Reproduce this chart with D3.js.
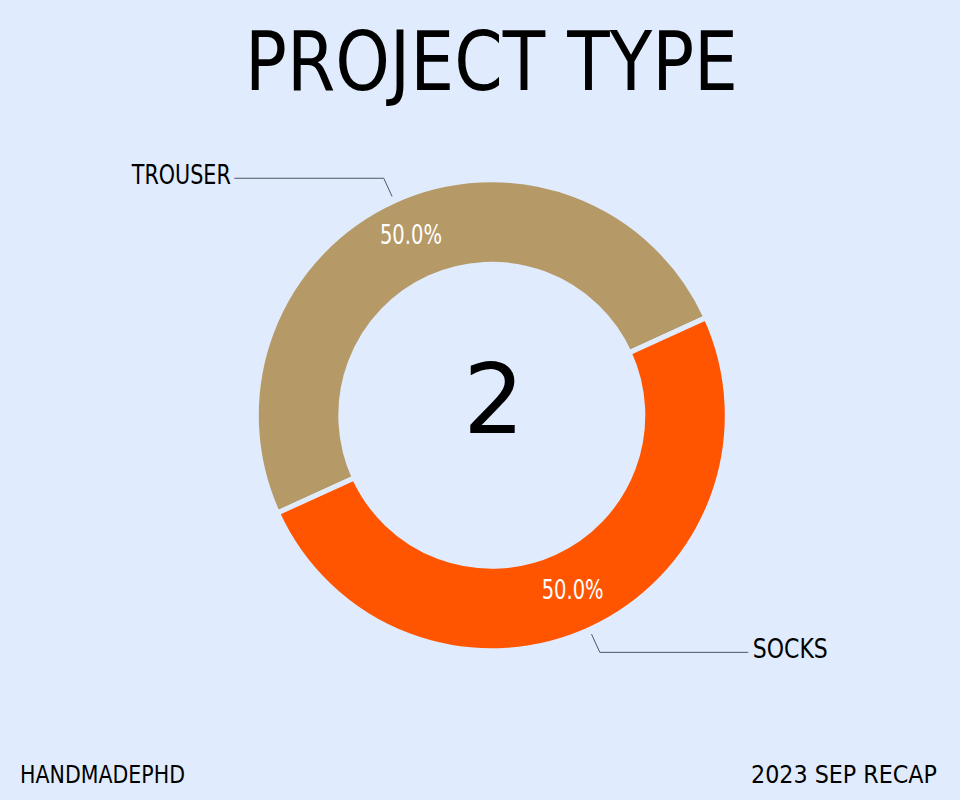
<!DOCTYPE html>
<html>
<head>
<meta charset="utf-8">
<script src="https://cdn.jsdelivr.net/npm/d3@7"></script>
<style>
  html, body { margin: 0; padding: 0; background: #e0ecfd; }
  svg { display: block; }
  text { font-family: "Humor Sans", "xkcd", "DejaVu Sans", sans-serif; }
</style>
</head>
<body>
<div id="chart"></div>
<script>
// project types and their counts
var categories = ["TROUSER", "SOCKS"];
var counts = [1, 1];
var colors = ["#b59967", "#ff5500"];
var title = "PROJECT TYPE";
var footerLeft = "HANDMADEPHD";
var footerRight = "2023 SEP RECAP";

var width = 960, height = 800;
var cx = 491.8, cy = 415.3;
var gapW = 5;
var outerR = 233 + gapW / 2, innerR = 153.5 - gapW / 2;

var svg = d3.select("#chart").append("svg")
    .attr("width", width).attr("height", height);

svg.append("rect").attr("width", width).attr("height", height).attr("fill", "#e0ecfd");

svg.append("text")
    .attr("x", 491.5).attr("y", 90)
    .attr("text-anchor", "middle")
    .attr("font-size", 82)
    .attr("textLength", 493)
    .attr("lengthAdjust", "spacingAndGlyphs")
    .attr("fill", "#000")
    .text(title);

var data = categories.map(function(c, i) { return {name: c, value: counts[i], color: colors[i]}; });

var start = -114.5 * Math.PI / 180;
var pie = d3.pie().value(function(d) { return d.value; }).sort(null)
    .startAngle(start).endAngle(start + 2 * Math.PI);
var arcs = pie(data);

var arc = d3.arc().innerRadius(innerR).outerRadius(outerR);
var g = svg.append("g").attr("transform", "translate(" + cx + "," + cy + ")");

g.selectAll("path.slice").data(arcs).enter().append("path")
    .attr("class", "slice")
    .attr("d", arc)
    .attr("fill", function(d) { return d.data.color; })
    .attr("stroke", "#e0ecfd")
    .attr("stroke-width", gapW);

// percentage labels
var total = d3.sum(counts);
var pctArc = d3.arc().innerRadius(195).outerRadius(195);
g.selectAll("text.pct").data(arcs).enter().append("text")
    .attr("class", "pct")
    .attr("transform", function(d) { return "translate(" + pctArc.centroid(d) + ")"; })
    .attr("text-anchor", "middle")
    .attr("y", 6.5)
    .attr("font-size", 27)
    .attr("textLength", 62)
    .attr("lengthAdjust", "spacingAndGlyphs")
    .attr("fill", "#fff")
    .style("font-family", "'DejaVu Sans', sans-serif")
    .text(function(d) { return d3.format(".1f")(d.data.value / total * 100) + "%"; });

// leader lines and category labels
var edgeArc = d3.arc().innerRadius(240.5).outerRadius(240.5);
var elbowArc = d3.arc().innerRadius(260.5).outerRadius(260.5);
var labelLen = {TROUSER: 99, SOCKS: 75};
arcs.forEach(function(d) {
    var mid = (d.startAngle + d.endAngle) / 2;
    var p0 = edgeArc.centroid(d);
    var p1 = elbowArc.centroid(d);
    var right = Math.sin(mid) > 0;
    var xEnd = right ? 256.5 : -257.5;
    g.append("polyline")
        .attr("points", [p0, p1, [xEnd, p1[1]]].map(function(p) { return p.join(","); }).join(" "))
        .attr("fill", "none")
        .attr("stroke", "#4f5566")
        .attr("stroke-width", 1);
    g.append("text")
        .attr("x", right ? xEnd + 4.5 : xEnd - 3.5)
        .attr("y", p1[1] + 6)
        .attr("text-anchor", right ? "start" : "end")
        .attr("font-size", 26)
        .attr("textLength", labelLen[d.data.name])
        .attr("lengthAdjust", "spacingAndGlyphs")
        .attr("fill", "#000")
        .text(d.data.name);
});

// total in the middle
g.append("text")
    .attr("x", 2)
    .attr("y", 18)
    .attr("text-anchor", "middle")
    .attr("font-size", 96)
    .attr("fill", "#000")
    .text(total);

svg.append("text")
    .attr("x", 20).attr("y", 783)
    .attr("font-size", 24)
    .attr("textLength", 165)
    .attr("lengthAdjust", "spacingAndGlyphs")
    .text(footerLeft);
svg.append("text")
    .attr("x", 751).attr("y", 783)
    .attr("font-size", 24)
    .attr("textLength", 186)
    .attr("lengthAdjust", "spacingAndGlyphs")
    .text(footerRight);
</script>
</body>
</html>
